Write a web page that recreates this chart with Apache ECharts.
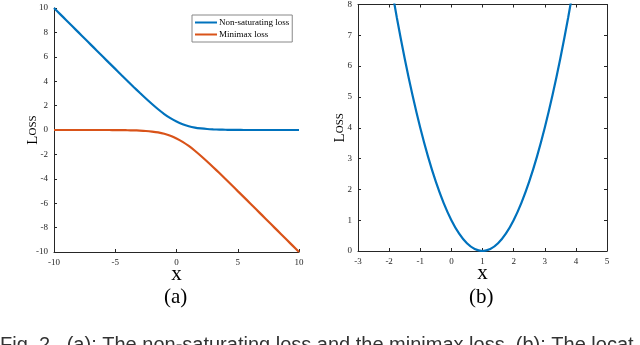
<!DOCTYPE html>
<html><head><meta charset="utf-8">
<script src="https://cdn.jsdelivr.net/npm/echarts@6/dist/echarts.min.js"></script>
<style>html,body{margin:0;padding:0;background:#fff}#c{width:640px;height:345px}</style>
</head><body><div id="c"></div>
<script>
// Panel (a)
const xA = [-10,-9.5,-9,-8.5,-8,-7.5,-7,-6.5,-6,-5.5,-5,-4.5,-4,-3.5,-3,-2.5,-2,-1.5,-1,-0.5,0,0.5,1,1.5,2,2.5,3,3.5,4,4.5,5,5.5,6,6.5,7,7.5,8,8.5,9,9.5,10];
const nonSaturating = [10.00,9.50,9.00,8.50,8.00,7.50,7.00,6.50,6.00,5.50,5.01,4.51,4.02,3.53,3.05,2.58,2.13,1.70,1.31,0.97,0.69,0.47,0.31,0.20,0.13,0.08,0.05,0.03,0.02,0.01,0.01,0.00,0.00,0.00,0.00,0.00,0.00,0.00,0.00,0.00,0.00];
const minimax = [0.00,0.00,0.00,0.00,0.00,0.00,0.00,0.00,0.00,0.00,-0.01,-0.01,-0.02,-0.03,-0.05,-0.08,-0.13,-0.20,-0.31,-0.47,-0.69,-0.97,-1.31,-1.70,-2.13,-2.58,-3.05,-3.53,-4.02,-4.51,-5.01,-5.50,-6.00,-6.50,-7.00,-7.50,-8.00,-8.50,-9.00,-9.50,-10.00];
// Panel (b)
const xB = [-2,-1.75,-1.5,-1.25,-1,-0.75,-0.5,-0.25,0,0.25,0.5,0.75,1,1.25,1.5,1.75,2,2.25,2.5,2.75,3,3.25,3.5,3.75,4];
const lossB = [9,7.5625,6.25,5.0625,4,3.0625,2.25,1.5625,1,0.5625,0.25,0.0625,0,0.0625,0.25,0.5625,1,1.5625,2.25,3.0625,4,5.0625,6.25,7.5625,9];
const seriesNames = ['Non-saturating loss','Minimax loss'];

const pair = (xs, ys) => xs.map((x,i)=>[x,ys[i]]);
const AX = '#262626';
const SERIF = 'Liberation Serif';
const tickLbl = {color: AX, fontFamily: SERIF, fontSize: 9, margin: 6};
const lossName = {
  name: '{a|L}{b|OSS}', nameLocation: 'middle', nameRotate: 90, nameMoveOverlap: false,
  nameTextStyle: {rich: {a: {fontFamily: SERIF, fontSize: 15, color: '#000'}, b: {fontFamily: SERIF, fontSize: 11, color: '#000'}}}
};
const xName = {name: 'x', nameLocation: 'middle', nameGap: 12, nameMoveOverlap: false, nameTextStyle: {fontFamily: SERIF, fontSize: 21, color: '#000'}};
const line = {show: true, onZero: false, lineStyle: {color: AX, width: 1}};
const tickIn = {show: true, inside: true, length: 3, lineStyle: {color: AX}};

const chart = echarts.init(document.getElementById('c'), null, {renderer: 'canvas'});
chart.setOption({
  animation: false,
  backgroundColor: '#fff',
  grid: [
    {left: 54, top: 8, width: 245, height: 244},
    {left: 358, top: 3, width: 249, height: 248}
  ],
  legend: {
    data: seriesNames, left: 192, top: 15, orient: 'vertical',
    icon: 'rect', itemWidth: 22, itemHeight: 2, itemGap: 3,
    padding: [3, 3, 3, 3], borderColor: '#888', borderWidth: 1,
    textStyle: {fontFamily: SERIF, fontSize: 9, color: '#000', padding: [0,0,0,-3]}
  },
  xAxis: [
    Object.assign({type: 'value', gridIndex: 0, position: 'bottom', min: -10, max: 10, interval: 5, axisLine: line, axisTick: tickIn, axisLabel: tickLbl, splitLine: {show: false}}, xName),
    Object.assign({type: 'value', gridIndex: 1, position: 'bottom', min: -3, max: 5, interval: 1, axisLine: line, axisTick: tickIn, axisLabel: tickLbl, splitLine: {show: false}}, xName),
    {type: 'value', gridIndex: 1, position: 'top', min: -3, max: 5, interval: 1, axisLine: line, axisTick: tickIn, axisLabel: {show: false}, splitLine: {show: false}}
  ],
  yAxis: [
    Object.assign({type: 'value', gridIndex: 0, position: 'left', min: -10, max: 10, interval: 2, axisLine: line, axisTick: tickIn, axisLabel: tickLbl, splitLine: {show: false}, nameGap: 13}, lossName),
    Object.assign({type: 'value', gridIndex: 1, position: 'left', min: 0, max: 8, interval: 1, axisLine: line, axisTick: tickIn, axisLabel: tickLbl, splitLine: {show: false}, nameGap: 10}, lossName),
    {type: 'value', gridIndex: 1, position: 'right', min: 0, max: 8, interval: 1, axisLine: line, axisTick: tickIn, axisLabel: {show: false}, splitLine: {show: false}}
  ],
  series: [
    {name: seriesNames[0], type: 'line', xAxisIndex: 0, yAxisIndex: 0, data: pair(xA, nonSaturating), smooth: 0.3, showSymbol: false, symbol: 'none', color: '#0072BD', lineStyle: {width: 2.2, color: '#0072BD'}},
    {name: seriesNames[1], type: 'line', xAxisIndex: 0, yAxisIndex: 0, data: pair(xA, minimax), smooth: 0.3, showSymbol: false, symbol: 'none', color: '#D95319', lineStyle: {width: 2.2, color: '#D95319'}},
    {name: 'b', type: 'line', xAxisIndex: 1, yAxisIndex: 1, data: pair(xB, lossB), smooth: 0.3, showSymbol: false, symbol: 'none', color: '#0072BD', lineStyle: {width: 2.2, color: '#0072BD'}, clip: true}
  ],
  graphic: [
    {type: 'text', left: 164, top: 287, style: {text: '(a)', font: '21px "Liberation Serif"', fill: '#000'}},
    {type: 'text', left: 469, top: 287, style: {text: '(b)', font: '21px "Liberation Serif"', fill: '#000'}},
    {type: 'text', left: 0, top: 335, style: {text: 'Fig. 2.  (a): The non-saturating loss and the minimax loss. (b): The locat', font: '20px "Liberation Sans"', fill: '#333'}}
  ]
});
</script></body></html>
